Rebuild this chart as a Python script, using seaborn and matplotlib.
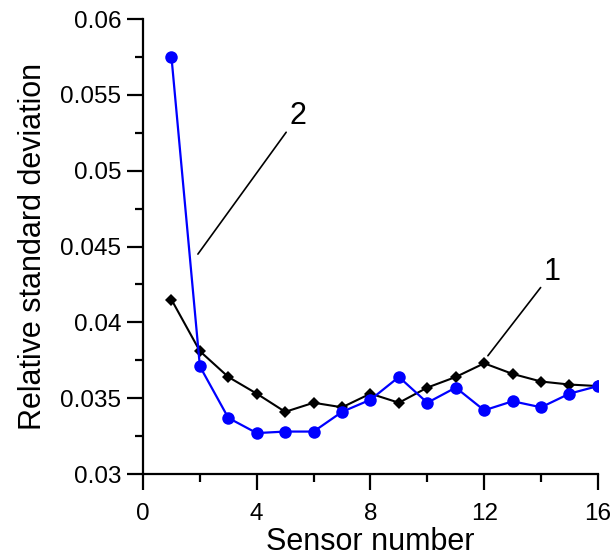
import matplotlib
matplotlib.use("Agg")
import matplotlib.pyplot as plt
import seaborn as sns
import pandas as pd
from matplotlib.ticker import MultipleLocator, FuncFormatter

sensors = list(range(1, 17))
series1 = [0.0415, 0.0381, 0.0364, 0.0353, 0.0341, 0.0347, 0.0344, 0.0353,
           0.0347, 0.0357, 0.0364, 0.0373, 0.0366, 0.0361, 0.0359, 0.0358]
series2 = [0.0575, 0.0371, 0.0337, 0.0327, 0.0328, 0.0328, 0.0341, 0.0349,
           0.0364, 0.0347, 0.0357, 0.0342, 0.0348, 0.0344, 0.0353, 0.0358]
x_label = "Sensor number"
y_label = "Relative standard deviation"

sns.set_style("ticks")
plt.rcParams['font.family'] = ['Liberation Sans', 'DejaVu Sans']
plt.rcParams['text.color'] = 'black'
plt.rcParams['axes.labelcolor'] = 'black'

fig = plt.figure(figsize=(6.12, 5.59), dpi=100)
ax = fig.add_axes([0.2337, 0.152, 0.977 - 0.2337, 0.966 - 0.152])

df1 = pd.DataFrame({"x": sensors, "y": series1})
df2 = pd.DataFrame({"x": sensors, "y": series2})

sns.lineplot(data=df1, x="x", y="y", ax=ax, color="black", lw=1.5,
             marker="D", markersize=6.5, markeredgewidth=0, zorder=3)
sns.lineplot(data=df2, x="x", y="y", ax=ax, color="#0000ff", lw=1.6,
             marker="o", markersize=9, markeredgewidth=0, zorder=4)

ax.set_xlim(0, 16)
ax.set_ylim(0.03, 0.06)
ax.xaxis.set_major_locator(MultipleLocator(4))
ax.xaxis.set_minor_locator(MultipleLocator(2))
ax.yaxis.set_major_locator(MultipleLocator(0.005))
ax.yaxis.set_minor_locator(MultipleLocator(0.0025))
ax.yaxis.set_major_formatter(FuncFormatter(lambda v, p: f"{v:g}"))

ax.tick_params(which="major", direction="out", length=11.5, width=1.6,
               labelsize=17.5, color="black", labelcolor="black")
ax.tick_params(axis="x", which="major", pad=9)
ax.tick_params(axis="y", which="major", pad=4.3)
ax.tick_params(which="minor", direction="out", length=6, width=1.6, color="black")
for s in ["left", "bottom"]:
    ax.spines[s].set_linewidth(1.6)
    ax.spines[s].set_color("black")
sns.despine(ax=ax)

ax.set_xlabel(x_label, fontsize=22, labelpad=2, color="black")
ax.set_ylabel(y_label, fontsize=22, labelpad=9, color="black")

ax.annotate("2", xy=(1.93, 0.0445), xytext=(5.15, 0.0536), fontsize=22,
            va="center", ha="left", color="black",
            arrowprops=dict(arrowstyle="-", color="black", lw=1.2,
                            shrinkA=0, shrinkB=0))
ax.annotate("1", xy=(12.13, 0.0378), xytext=(14.1, 0.0433), fontsize=22,
            va="center", ha="left", color="black",
            arrowprops=dict(arrowstyle="-", color="black", lw=1.2,
                            shrinkA=0, shrinkB=0))

fig.savefig("out.png", dpi=100)
